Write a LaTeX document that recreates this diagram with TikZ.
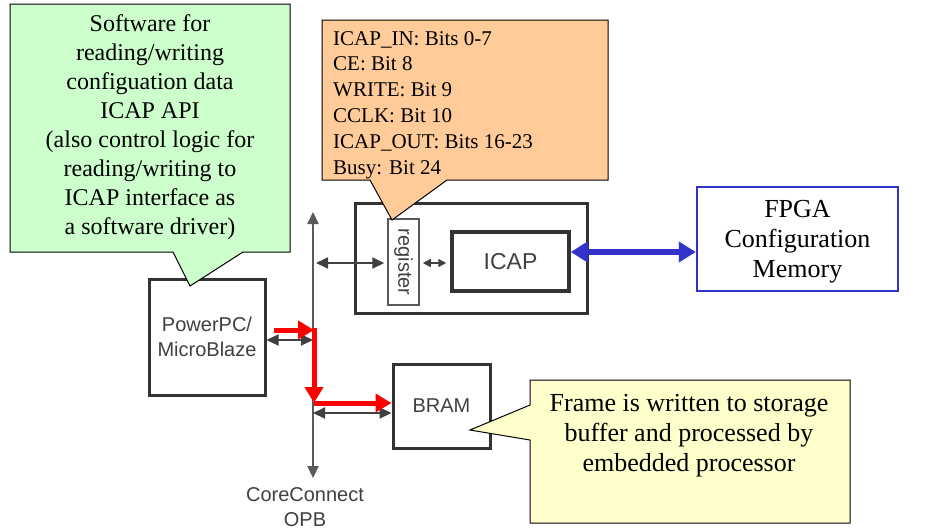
\documentclass[tikz,border=0pt]{standalone}
\usepackage{fontspec}
\setmainfont{Liberation Serif}
\setsansfont{Liberation Sans}
\usetikzlibrary{arrows.meta,calc}
\definecolor{greenfill}{HTML}{CCFFCC}
\definecolor{orangefill}{HTML}{FFCC99}
\definecolor{yellowfill}{HTML}{FFFFCC}
\definecolor{darkbox}{HTML}{333333}
\definecolor{sansgray}{HTML}{404040}
\definecolor{fpgablue}{HTML}{3333CC}
\definecolor{redarrow}{HTML}{FF0000}
\tikzset{
  hwbox/.style={draw=darkbox, line width=3pt, inner sep=0pt, fill=white},
  regbox/.style={draw=gray!70!black, line width=1.5pt, inner sep=0pt, fill=white},
  sanslabel/.style={text=sansgray, font=\sffamily\fontsize{20}{25}\selectfont, align=center, inner sep=0pt},
  seriflabel/.style={text=black, align=center, inner sep=0pt},
  callout/.style={draw=black, line width=1pt},
  dbl/.style={draw=sansgray, line width=2pt, {Triangle[length=12pt,width=11pt]}-{Triangle[length=12pt,width=11pt]}},
  redarr/.style={draw=redarrow, line width=5pt, -{Triangle[length=16pt,width=18pt]}},
  bluearr/.style={draw=fpgablue, line width=6pt, {Triangle[length=17pt,width=20pt]}-{Triangle[length=17pt,width=20pt]}},
}
\begin{document}
\begin{tikzpicture}[x=1pt,y=-1pt]
\useasboundingbox (0,0) rectangle (946,531);
\fill[white] (0,0) rectangle (946,531);

% boxes
\node[hwbox, minimum width=232pt, minimum height=110pt] (outer) at (471,258) {};
\node[regbox, minimum width=31pt, minimum height=86pt] (reg) at (403.5,262) {};
\node[sanslabel, rotate=-90] (regtext) at (reg.center) {register};
\node[hwbox, line width=3.5pt, minimum width=117pt, minimum height=59pt] (icap) at (510.5,261.5) {};
\node[sanslabel, font=\sffamily\fontsize{23}{28}\selectfont] (icaptext) at (icap.center) {ICAP};
\node[hwbox, minimum width=116pt, minimum height=116pt] (ppc) at (207,337) {};
\node[sanslabel] (ppctext) at (ppc.center) {PowerPC/\\MicroBlaze};
\node[hwbox, minimum width=97pt, minimum height=84pt] (bram) at (441.5,406) {};
\node[sanslabel] (bramtext) at (bram.center) {BRAM};
\node[draw=fpgablue, line width=2.5pt, fill=white, inner sep=0pt, minimum width=201pt, minimum height=104pt] (fpga) at (797.5,239) {};
\node[seriflabel, font=\fontsize{26}{30}\selectfont] (fpgatext) at (797.5,242) {FPGA\\Configuration\\Memory};

% bus
\coordinate (bustop) at (313,212);
\coordinate (busbot) at (313,478);
\draw[dbl, draw=gray!70!black, line width=2.2pt] (bustop) -- (busbot);
\node[sanslabel] (bus) at (305,507) {CoreConnect\\OPB};

% black connectors
\coordinate (busreg) at (313,263);
\draw[dbl, shorten <=3pt, shorten >=3pt] (busreg) -- (busreg -| reg.west);
\draw[dbl, line width=1.5pt, {Triangle[length=8pt,width=8pt]}-{Triangle[length=8pt,width=8pt]}, shorten <=3pt, shorten >=4pt] (reg.east |- busreg) -- (busreg -| icap.west);
\coordinate (busppc) at (313,340);
\draw[dbl] (busppc -| ppc.east) -- (busppc);
\coordinate (busbram) at (313,413);
\draw[dbl] (busbram) -- (busbram -| bram.west);

% red arrows
\coordinate (r0) at (274,330);
\coordinate (r1) at (314,330);
\coordinate (r2) at (314,403);
\draw[redarr] (r0) -- (r1);
\draw[redarr, line cap=rect] (r1) -- (r2);
\draw[redarr] (r2) -- (r2 -| bram.west);

% blue arrow
\coordinate (icapE) at ([yshift=9.5pt]icap.east);
\draw[bluearr] (icapE) -- (icapE -| fpga.west);

% green callout
\draw[callout, fill=greenfill] (10,4) -- (290,4) -- (290,252) -- (243,252) -- (190,286) -- (173,252) -- (10,252) -- cycle;
\node[seriflabel, font=\fontsize{24}{29}\selectfont] (green) at (150,127) {Software for\\reading/writing\\configuation data\\ICAP API\\(also control logic for\\reading/writing to\\ICAP interface as\\a software driver)};

% orange callout
\draw[callout, fill=orangefill] (322,20) -- (608,20) -- (608,180) -- (447,180) -- (392,220) -- (370,180) -- (322,180) -- cycle;
\node[seriflabel, align=left, anchor=north west, font=\fontsize{21}{25.8}\selectfont] (orange) at (333,31) {ICAP\_IN: Bits 0-7\\CE: Bit 8\\WRITE: Bit 9\\CCLK: Bit 10\\ICAP\_OUT: Bits 16-23\\Busy: Bit 24};

% yellow callout
\draw[callout, fill=yellowfill] (530,380) -- (850,380) -- (850,523) -- (530,523) -- (530,440) -- (470,430) -- (530,405) -- cycle;
\node[seriflabel, font=\fontsize{26}{30}\selectfont] (yellow) at (689,436) {Frame is written to storage\\buffer and processed by\\embedded processor};
\end{tikzpicture}
\end{document}
